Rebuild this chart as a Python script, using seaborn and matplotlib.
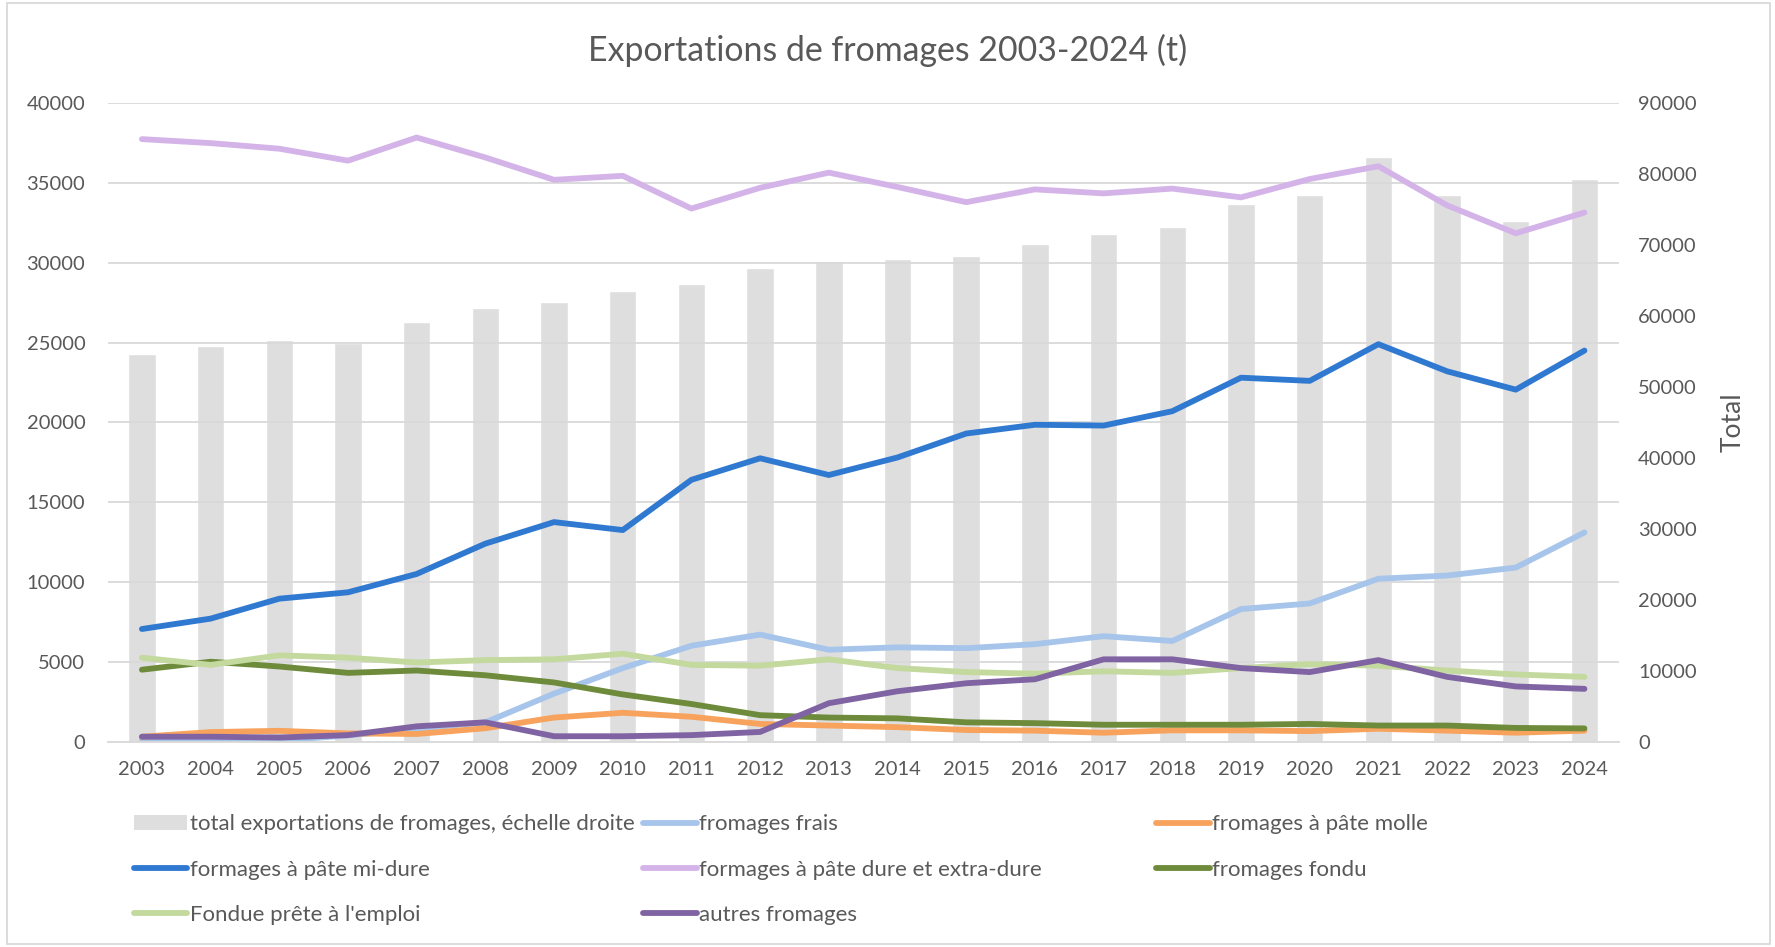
#%% libraries
import matplotlib
matplotlib.use("Agg")
import matplotlib.pyplot as plt
import seaborn as sns
from matplotlib.patches import Rectangle

#%% data
years = [str(y) for y in range(2003, 2025)]

total = [54700, 55700, 56600, 56200, 59200, 61100, 62000, 63500, 64500, 66800, 67700,
         68100, 68400, 70200, 71500, 72500, 75800, 77100, 82400, 77000, 73400, 79300]
frais = [130, 120, 60, 380, 800, 1200, 3000, 4600, 6000, 6700, 5750,
         5900, 5850, 6100, 6600, 6300, 8300, 8650, 10200, 10400, 10900, 13100]
molle = [300, 590, 670, 510, 470, 830, 1500, 1800, 1550, 1100, 1000,
         900, 720, 680, 550, 700, 700, 650, 800, 680, 550, 680]
mi_dure = [7050, 7700, 8950, 9350, 10500, 12400, 13750, 13250, 16400, 17750, 16700,
           17800, 19300, 19850, 19800, 20700, 22800, 22600, 24900, 23200, 22050, 24500]
dure = [37750, 37500, 37150, 36400, 37850, 36600, 35200, 35450, 33400, 34700, 35650,
        34750, 33800, 34600, 34350, 34650, 34100, 35250, 36050, 33600, 31850, 33150]
fondu = [4500, 5000, 4700, 4300, 4450, 4150, 3700, 2950, 2350, 1650, 1500,
         1450, 1200, 1150, 1050, 1050, 1050, 1100, 1000, 1000, 850, 820]
fondue_prete = [5250, 4800, 5400, 5250, 4950, 5100, 5150, 5500, 4800, 4750, 5150,
                4600, 4350, 4250, 4400, 4300, 4600, 4850, 4750, 4450, 4200, 4050]
autres = [300, 300, 250, 400, 950, 1200, 330, 330, 400, 600, 2400,
          3150, 3650, 3900, 5150, 5150, 4600, 4350, 5100, 4050, 3450, 3300]

series = [
    ("fromages frais", frais, "#a7c5ea"),
    ("fromages à pâte molle", molle, "#f7a35e"),
    ("formages à pâte mi-dure", mi_dure, "#3079d1"),
    ("formages à pâte dure et extra-dure", dure, "#d4b4e8"),
    ("fromages fondu", fondu, "#6d8b3a"),
    ("Fondue prête à l'emploi", fondue_prete, "#c3d99d"),
    ("autres fromages", autres, "#8063a2"),
]

#%% plot
sns.set_theme(style="white")
plt.rcParams["font.family"] = ["Lato", "DejaVu Sans"]
text_col = "#595959"
grid_col = "#d9d9d9"

fig = plt.figure(figsize=(17.75, 9.47), dpi=100)
ax = fig.add_axes([0.0606, 0.217, 0.8514, 0.674])
ax2 = ax.twinx()

# bars on the right axis, lines on top
x = list(range(len(years)))
sns.barplot(x=x, y=total, ax=ax2, color="#dedede", width=0.40, saturation=1,
            native_scale=True)
ax.set_zorder(ax2.get_zorder() + 1)
ax.patch.set_visible(False)

handles = {}
for name, vals, col in series:
    sns.lineplot(x=x, y=vals, ax=ax, color=col, linewidth=4.2,
                 solid_capstyle="round", solid_joinstyle="round")
    handles[name] = ax.lines[-1]

ax.set_xlim(-0.5, 21.5)
ax.set_ylim(0, 40000)
ax2.set_ylim(0, 90000)
ax.set_yticks(range(0, 40001, 5000))
ax2.set_yticks(range(0, 90001, 10000))
ax.set_xticks(x)
ax.set_xticklabels(years)

ax.grid(True, axis="y", color=grid_col, linewidth=1.3)
ax.grid(False, axis="x")
ax2.grid(False)
for a in (ax, ax2):
    for s in a.spines.values():
        s.set_visible(False)
ax.spines["bottom"].set_visible(True)
ax.spines["bottom"].set_color(grid_col)
ax.spines["bottom"].set_linewidth(1.3)

ax.tick_params(axis="y", length=0, pad=16, labelsize=14.5, labelcolor=text_col)
ax.tick_params(axis="x", length=0, pad=14, labelsize=14.5, labelcolor=text_col)
ax2.tick_params(axis="y", length=0, pad=14, labelsize=14.5, labelcolor=text_col)
ax2.set_ylabel("Total", fontsize=19, color=text_col, labelpad=17)
ax2.set_xlabel("")

fig.text(0.5, 0.947, "Exportations de fromages 2003-2024 (t)", ha="center", va="center",
         fontsize=24.4, color=text_col)

# legend, laid out row by row in three columns
bar_handle = Rectangle((0, 0), 1, 1, facecolor="#dedede", edgecolor="none")
columns = [
    ([bar_handle, handles["formages à pâte mi-dure"], handles["Fondue prête à l'emploi"]],
     ["total exportations de fromages, échelle droite", "formages à pâte mi-dure",
      "Fondue prête à l'emploi"], 0.0755),
    ([handles["fromages frais"], handles["formages à pâte dure et extra-dure"],
      handles["autres fromages"]],
     ["fromages frais", "formages à pâte dure et extra-dure", "autres fromages"], 0.3625),
    ([handles["fromages à pâte molle"], handles["fromages fondu"]],
     ["fromages à pâte molle", "fromages fondu"], 0.6515),
]
for hs, labels, xpos in columns:
    leg = fig.legend(hs, labels, loc="upper left", bbox_to_anchor=(xpos, 0.140),
                     frameon=False, fontsize=16, handlelength=2.4, handletextpad=0.12,
                     borderpad=0, borderaxespad=0, labelspacing=1.13)
    for t in leg.get_texts():
        t.set_color(text_col)

fig.add_artist(Rectangle((0.004, 0.003), 0.993, 0.994, transform=fig.transFigure,
                         fill=False, edgecolor=grid_col, linewidth=1.3))

plt.savefig("out.png", dpi=100)
